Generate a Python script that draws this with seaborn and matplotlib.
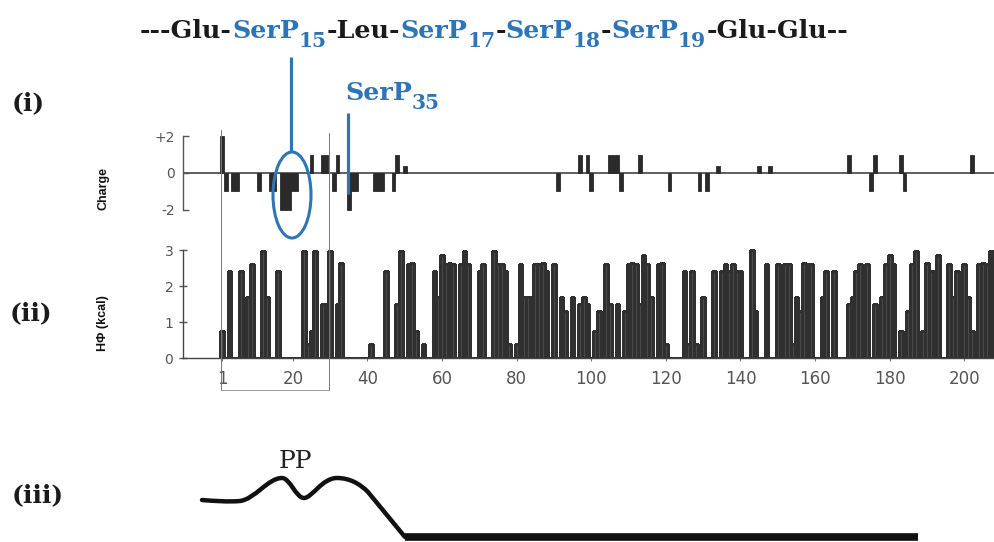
import numpy as np
import pandas as pd
import matplotlib
matplotlib.use("Agg")
import matplotlib.pyplot as plt
import seaborn as sns
from matplotlib.patches import Ellipse, PathPatch
from matplotlib.path import Path

# ---------------- data ----------------
residues = list(range(1, 210))
hphi = [
    0.75, 0, 2.42, 0, 0, 2.42, 0, 1.7, 2.6, 0,
    0, 2.97, 1.7, 0, 0, 2.42, 0, 0, 0, 0,
    0, 0, 2.97, 0.4, 0.75, 2.97, 0, 1.5, 1.5, 2.97,
    0, 1.5, 2.65, 0, 0, 0, 0, 0, 0, 0,
    0.4, 0, 0, 0, 2.42, 0, 0, 1.5, 2.97, 0,
    2.6, 2.65, 0.75, 0, 0.4, 0, 0, 2.42, 1.7, 2.87,
    2.6, 2.65, 2.6, 0, 2.6, 2.97, 2.6, 0, 0, 2.42,
    2.6, 0, 0, 2.97, 2.6, 2.6, 2.42, 0.4, 0, 0.4,
    2.6, 1.7, 1.7, 1.7, 2.6, 2.6, 2.65, 2.42, 0, 2.6,
    0, 1.7, 1.3, 0, 1.7, 0, 1.5, 1.7, 1.5, 0,
    0.75, 1.3, 0.75, 2.6, 1.5, 0, 1.5, 0, 1.3, 2.6,
    2.65, 2.6, 1.5, 2.87, 2.6, 1.7, 0, 2.6, 2.65, 0.4,
    0, 0, 0, 0, 2.42, 0.4, 2.42, 0.4, 0, 1.7,
    0, 0, 2.42, 0, 2.42, 2.6, 2.42, 2.6, 2.42, 2.42,
    0, 0, 3.0, 1.3, 0, 0, 2.6, 0, 0, 2.6,
    2.42, 2.6, 2.6, 0.4, 1.7, 1.3, 2.65, 2.6, 2.6, 0,
    0, 1.7, 2.42, 0, 2.42, 0, 0, 0, 1.5, 1.7,
    2.42, 2.6, 1.7, 2.6, 0, 1.5, 0.75, 1.7, 2.6, 2.87,
    2.6, 0, 0.75, 0, 1.3, 2.6, 2.97, 0, 0.75, 2.65,
    2.42, 2.42, 2.87, 0, 0, 2.6, 1.7, 2.42, 0, 2.6,
    1.7, 0.75, 0, 2.6, 2.65, 2.6, 2.97, 2.97, 1.7,
]
charge_res = [1, 2, 4, 5, 11, 14, 15, 17, 18, 19, 20, 21, 25, 28, 29, 31, 32,
              35, 36, 37, 42, 43, 44, 47, 48, 50, 91, 97, 99, 100, 105, 106,
              107, 108, 113, 121, 129, 131, 134, 145, 148, 169, 175, 176,
              183, 184, 202]
charge_val = [2, -1, -1, -1, -1, -1, -1, -2, -2, -2, -1, -1, 1, 1, 1, -1, 1,
              -2, -1, -1, -1, -1, -1, -1, 1, 0.4, -1, 1, 1, -1, 1, 1,
              1, -1, 1, -1, -1, -1, 0.4, 0.4, 0.4, 1, -1, 1,
              1, -1, 1]
xtick_vals = [1, 20, 40, 60, 80, 100, 120, 140, 160, 180, 200]
charge_ticks = [2, 0, -2]
charge_ticklabels = ["+2", "0", "-2"]
hphi_ticks = [0, 1, 2, 3]
hphi_ticklabels = ["0", "1", "2", "3"]
# schematic profile (iii): residue position vs. level (Bezier control points)
pp_profile_r = [-4.36, -0.88, 2.61, 5.83, 9.85, 13.33, 17.09, 19.23, 20.84,
                22.98, 25.13, 27.81, 31.83, 35.32, 38.0, 40.14, 50.06]
pp_profile_level = [3.7, 3.6, 3.5, 3.6, 3.8, 5.9, 5.9, 5.9, 3.9,
                    3.9, 3.9, 5.9, 5.9, 5.9, 5.3, 4.5, 0.0]
pp_band_r = [50.06, 187.6]
seq_tokens = ["---Glu-", "SerP", "-Leu-", "SerP", "-", "SerP", "-", "SerP", "-Glu-Glu--"]
seq_subs = [None, "15", None, "17", None, "18", None, "19", None]
seq_blue = [False, True, False, True, False, True, False, True, False]
panel_labels = ["(i)", "(ii)", "(iii)"]

BLUE = "#2E75B6"
GRAY = "#555555"

sns.set_style("white")
plt.rcParams["font.family"] = ["DejaVu Sans"]

fig = plt.figure(figsize=(9.95, 5.42), dpi=100)
W, H = 995.0, 542.0

def px_axes(left, top, right, bottom, **kw):
    return fig.add_axes([left / W, 1 - bottom / H, (right - left) / W, (bottom - top) / H], **kw)

# residue -> pixel: x = 222 + (r-1)*3.73
r_left = 1 + (183 - 222) / 3.73
r_right = 1 + (995 - 222) / 3.73

# ---------- (i) charge ----------
ax1 = px_axes(183, 173 - 2.5 * 18.25, 995, 173 + 2.5 * 18.25)
df_c = pd.DataFrame({"residue": charge_res, "charge": charge_val})
sns.barplot(data=df_c, x="residue", y="charge", native_scale=True, width=1.0,
            color="#2a2a2a", edgecolor="#2a2a2a", linewidth=0.6, saturation=1,
            errorbar=None, ax=ax1)
ax1.set_xlim(r_left, r_right)
ax1.set_ylim(-2.5, 2.5)
ax1.axhline(0, color="#444444", lw=1.2, zorder=0.5)
for s in ["top", "right", "bottom"]:
    ax1.spines[s].set_visible(False)
ax1.spines["left"].set_bounds(-2, 2)
ax1.spines["left"].set_color("#555555")
ax1.spines["left"].set_linewidth(1.0)
ax1.set_yticks(charge_ticks)
ax1.set_yticklabels(charge_ticklabels)
ax1.set_xticks([])
ax1.tick_params(axis="y", direction="in", length=4, width=1, color="#555555",
                labelsize=10, labelcolor=GRAY, pad=6, left=True)
ax1.set_xlabel("")
ax1.set_ylabel("")
ax1.patch.set_alpha(0)

# ---------- (ii) hydrophobicity ----------
ax2 = px_axes(183, 358 - 3.2 * 36, 995, 358)
df_h = pd.DataFrame({"residue": residues, "hphi": hphi})
sns.barplot(data=df_h, x="residue", y="hphi", native_scale=True, width=1.0,
            color="#4a4a4a", edgecolor="#303030", linewidth=0.9, saturation=1,
            errorbar=None, antialiased=False, ax=ax2)
ax2.set_xlim(r_left, r_right)
ax2.set_ylim(0, 3.2)
for s in ["top", "right"]:
    ax2.spines[s].set_visible(False)
ax2.spines["left"].set_bounds(0, 3)
for s in ["left", "bottom"]:
    ax2.spines[s].set_color("#444444")
    ax2.spines[s].set_linewidth(1.0)
ax2.set_yticks(hphi_ticks)
ax2.set_yticklabels(hphi_ticklabels)
ax2.set_xticks(xtick_vals)
ax2.set_xticklabels([str(v) for v in xtick_vals])
ax2.tick_params(axis="y", direction="inout", length=6, width=1, color="#555555",
                labelsize=10, labelcolor=GRAY, pad=4, left=True)
ax2.tick_params(axis="x", direction="out", length=2, width=0.8, color="#777777",
                labelsize=12, labelcolor=GRAY, pad=7, bottom=True)
ax2.set_xlabel("")
ax2.set_ylabel("")
ax2.patch.set_alpha(0)

# ---------- (iii) schematic profile ----------
ax3 = px_axes(183, 440, 995, 542)
ax3.set_xlim(r_left, r_right)
ax3.set_ylim(-0.5, 9.7)
ax3.axis("off")
verts = list(zip(pp_profile_r, pp_profile_level))
codes = [Path.MOVETO] + [Path.CURVE4] * 15 + [Path.LINETO]
ax3.add_patch(PathPatch(Path(verts, codes), facecolor="none", edgecolor="#111111",
                        lw=3.2, capstyle="round", joinstyle="round"))
ax3.plot(pp_band_r, [0, 0], color="#111111", lw=5.5, solid_capstyle="butt")
ax3.text(20.7, 6.9, "PP", fontsize=18, family="DejaVu Serif", ha="center",
         va="baseline", color="#222222")

# ---------- annotation overlay (pixel coordinates) ----------
ann = fig.add_axes([0, 0, 1, 1], zorder=10)
ann.set_xlim(0, W)
ann.set_ylim(H, 0)
ann.axis("off")
ann.patch.set_alpha(0)
renderer = fig.canvas.get_renderer()

def place_run(x0, y_base, tokens, subs, blues, size, sub_scale=0.8, sub_drop=9):
    arts = []
    x = x0
    for tok, sub, blue in zip(tokens, subs, blues):
        c = BLUE if blue else "#1a1a1a"
        t = ann.text(x, y_base, tok, fontsize=size, fontweight="bold",
                     family="DejaVu Serif", color=c, ha="left", va="baseline")
        x += t.get_window_extent(renderer).width
        arts.append(t)
        if sub:
            t2 = ann.text(x, y_base + sub_drop, sub, fontsize=size * sub_scale,
                          fontweight="bold", family="DejaVu Serif", color=c,
                          ha="left", va="baseline")
            x += t2.get_window_extent(renderer).width
            arts.append(t2)
    return arts, x - x0

arts, width = place_run(140, 38, seq_tokens, seq_subs, seq_blue, 16)
size = 16 * 708.0 / width
for a in arts:
    a.remove()
place_run(140, 38, seq_tokens, seq_subs, seq_blue, size)
place_run(345, 100, ["SerP"], ["35"], [True], size)

# blue pointers
ann.plot([291, 291], [57, 152], color=BLUE, lw=2.3, solid_capstyle="butt")
ann.add_patch(Ellipse((292, 195), 38, 86, fill=False, edgecolor=BLUE, lw=2.2))
ann.plot([348, 348], [113, 194], color=BLUE, lw=2.3, solid_capstyle="butt")

# thin box marking residues 1-30
ann.plot([221, 221], [130, 390], color="#777777", lw=0.7)
ann.plot([329, 329], [133, 390], color="#777777", lw=0.7)
ann.plot([221, 329], [390, 390], color="#999999", lw=0.7)

# panel labels
for lab, (xx, yy) in zip(panel_labels, [(12, 103), (10, 313), (12, 495)]):
    ann.text(xx, yy, lab, fontsize=18, fontweight="bold", family="DejaVu Serif",
             color="#1a1a1a", ha="left", va="center")

# axis titles
ann.text(103, 188, "Charge", rotation=90, fontsize=9, fontweight="bold",
         family="Liberation Sans", ha="center", va="center", color="#111111")
ann.text(103, 323, "HΦ (kcal)", rotation=90, fontsize=9, fontweight="bold",
         family="Liberation Sans", ha="center", va="center", color="#111111")

fig.savefig("out.png", dpi=100)
